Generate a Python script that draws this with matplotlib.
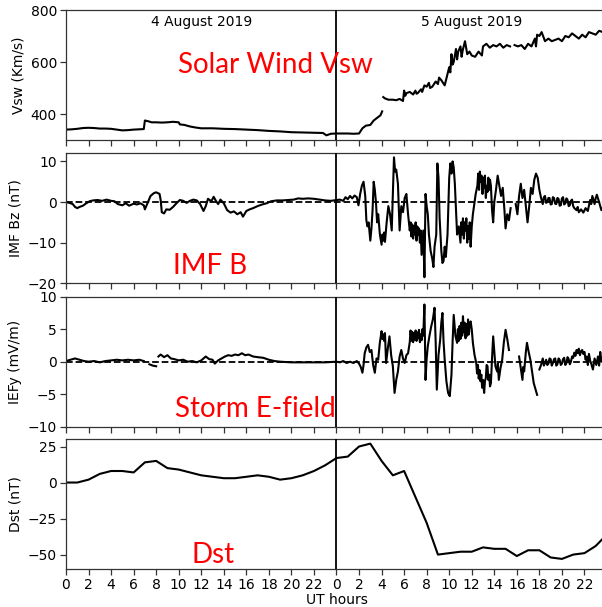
import numpy as np
import matplotlib
matplotlib.use("Agg")
import matplotlib.pyplot as plt

nan = np.nan

# ---------------- data (hour since 4 Aug 2019 00 UT, value) ----------------
# Solar wind speed (km/s)
vsw_day1 = [(0, 340), (0.5, 341), (1, 343), (1.5, 346), (2, 347), (2.5, 346), (3, 344), (3.5, 344),
            (4, 343), (4.5, 340), (5, 337), (5.5, 338), (6, 340), (6.5, 341), (6.9, 342), (7.0, 375),
            (7.3, 372), (7.6, 368), (8, 368), (8.5, 367), (9, 368), (9.5, 370), (10, 368), (10.1, 360),
            (10.5, 358), (11, 352), (11.5, 348), (12, 345), (13, 345), (14, 343), (15, 342), (16, 340),
            (17, 338), (18, 335), (19, 333), (20, 330), (21, 329), (22, 328), (22.8, 327), (23.1, 318),
            (23.5, 324), (24, 325)]
vsw_day2 = [(24.5, 325), (25, 325), (25.5, 324), (26, 325), (26.3, 345), (26.6, 355), (27, 358),
            (27.3, 375), (27.6, 385), (27.9, 395), (28.05, 410), (28.1, nan), (28.15, 465), (28.3, 460),
            (28.6, 455), (29, 455), (29.3, 453), (29.6, 458), (29.9, 450), (30, 490), (30.1, 470),
            (30.2, 480), (30.5, 485), (30.8, 475), (31, 490), (31.1, 478), (31.2, 480), (31.5, 495),
            (31.6, 485), (31.8, 510), (32, 505), (32.2, 520), (32.3, 500), (32.5, 505), (32.8, 525),
            (33, 515), (33.1, 540), (33.3, 530), (33.6, 510), (33.8, 545), (34, 580), (34.1, 560),
            (34.2, 630), (34.3, 590), (34.4, 600), (34.6, 650), (34.7, 610), (34.8, 640), (35, 660),
            (35.1, 620), (35.2, 645), (35.4, 680), (35.6, 630), (35.8, 640), (36, 625), (36.3, 620),
            (36.6, 640), (36.9, 625), (37, 660), (37.3, 670), (37.6, 655), (37.9, 665), (38.2, 660),
            (38.5, 670), (38.8, 655), (39.1, 665), (39.4, 660), (39.6, nan), (39.8, 665), (40.1, 660),
            (40.4, 665), (40.7, 650), (41, 670), (41.3, 660), (41.6, 690), (41.7, 660), (41.8, 705),
            (42, 700), (42.2, 715), (42.5, 680), (42.8, 690), (43.1, 680), (43.4, 685), (43.7, 690),
            (44, 680), (44.3, 700), (44.6, 695), (44.9, 710), (45.2, 700), (45.5, 690), (45.8, 705),
            (46.1, 695), (46.4, 715), (46.7, 710), (47, 705), (47.3, 720), (47.6, 715), (48, 712)]

# IMF Bz (nT)
bz_day1 = [(0, 0), (0.3, -0.2), (0.6, -0.5), (0.8, -1.2), (1.0, -1.5), (1.2, -1.2), (1.5, -0.9),
           (1.8, -0.3), (2.1, 0.2), (2.4, 0.4), (2.8, 0.5), (3.2, 0.3), (3.6, 0.6), (4.0, 0.3),
           (4.3, 0.2), (4.6, -0.5), (5.0, -0.8), (5.3, -0.3), (5.6, -0.9), (6.0, -0.4), (6.3, -0.6),
           (6.6, -0.3), (6.9, -0.8), (7.0, -1.8), (7.2, -0.5), (7.5, 1.5), (7.8, 2.2), (8.0, 2.4),
           (8.3, 2.0), (8.4, 0.5), (8.5, -2.5), (8.7, -2.8), (8.9, -1.8), (9.2, -1.9), (9.5, -1.2),
           (9.8, -0.3), (10.1, 0.5), (10.4, 0.3), (10.7, -0.2), (11.0, 0.3), (11.3, 0.6), (11.6, 0.4),
           (11.9, -0.5), (12.2, -2.2), (12.4, -1.0), (12.6, 0.8), (12.9, 0.2), (13.1, 1.3), (13.3, 0.3),
           (13.5, -0.5), (13.7, 0.6), (14.0, -0.3), (14.3, -2.0), (14.6, -2.6), (14.9, -2.3), (15.2, -3.0),
           (15.5, -2.5), (15.7, -3.6), (16.0, -2.2), (16.3, -1.8), (16.6, -1.5), (17.0, -1.0), (17.4, -0.6),
           (17.8, -0.3), (18.2, 0.2), (18.7, 0.4), (19.2, 0.4), (19.7, 0.5), (20.2, 0.6), (20.6, 0.9),
           (21.0, 0.8), (21.5, 0.9), (22.0, 0.8), (22.5, 0.6), (23.0, 0.4), (23.5, 0.3), (24.0, 0.5)]
bz_day2 = [(24.3, 0.6), (24.6, 0.3), (24.8, 1.2), (25.0, 0.7), (25.2, 1.5), (25.4, 0.9), (25.6, 1.6),
           (25.8, 1.2), (25.95, -0.8), (26.1, 2.0), (26.25, 4.0), (26.4, 5.0), (26.55, 1.5), (26.65, -4.5),
           (26.75, -6.0), (26.85, -5.0), (27.0, -9.5), (27.1, -6.5), (27.2, -2.0), (27.3, 5.0), (27.4, 3.0),
           (27.5, 0.0), (27.6, -5.0), (27.7, -3.0), (27.85, -8.0), (28.0, -10.5), (28.07, -8.0), (28.15, -9.5),
           (28.22, -7.5), (28.3, -9.8), (28.45, -5.0), (28.6, -1.0), (28.75, -3.0), (28.9, -7.0), (29.0, 2.0),
           (29.1, 11.0), (29.2, 7.5), (29.3, 8.0), (29.45, 4.5), (29.6, -7.0), (29.75, -1.0), (29.9, -2.5),
           (30.05, 1.0), (30.2, 2.0), (30.35, -3.0), (30.5, -7.0), (30.58, -5.0), (30.65, -8.5), (30.72, -5.5),
           (30.8, -9.0), (30.87, -6.0), (30.95, -8.0), (31.02, -5.0), (31.1, -9.5), (31.17, -6.0), (31.25, -8.0),
           (31.32, -6.5), (31.4, -10.0), (31.47, -7.0), (31.55, -13.0), (31.7, -7.0), (31.8, -18.5), (31.9, 2.0),
           (32.0, -1.0), (32.1, -3.0), (32.2, -8.0), (32.35, -12.0), (32.5, -14.0), (32.6, -16.0), (32.7, -11.0),
           (32.85, -8.0), (32.95, 9.5), (33.05, 6.0), (33.15, -4.0), (33.3, -12.0), (33.4, -15.0), (33.5, -14.5),
           (33.6, -11.0), (33.7, -13.5), (33.85, -8.0), (34.0, 6.0), (34.1, 9.5), (34.2, 7.0), (34.3, 10.0),
           (34.4, 8.5), (34.5, 4.5), (34.6, -2.0), (34.7, -8.0), (34.85, -6.0), (35.0, -10.0), (35.07, -5.0),
           (35.15, -8.0), (35.22, -4.0), (35.3, -9.0), (35.37, -5.0), (35.45, -7.0), (35.52, -4.0), (35.6, -10.0),
           (35.67, -6.0), (35.75, -9.0), (35.82, -5.0), (35.9, -11.0), (36.0, -6.0), (36.1, -3.0), (36.2, -1.0),
           (36.35, 2.0), (36.5, 4.0), (36.57, 7.0), (36.65, 3.0), (36.72, 7.5), (36.8, 5.0), (36.87, 6.5),
           (36.95, 2.0), (37.02, 6.0), (37.1, 3.5), (37.17, 6.5), (37.25, 1.0), (37.32, 4.0), (37.4, 2.5),
           (37.47, 6.0), (37.55, 3.0), (37.62, 5.5), (37.7, 4.0), (37.8, -2.0), (37.9, -5.0), (38.0, 0.0),
           (38.15, 3.0), (38.3, 6.5), (38.45, 4.0), (38.6, 1.5), (38.75, 3.5), (38.9, -2.0), (39.0, -6.5),
           (39.15, -3.0), (39.3, -4.5), (39.45, -1.5), (39.6, nan), (39.9, -0.5), (40.05, -3.0), (40.2, 1.5),
           (40.35, 4.5), (40.5, 1.0), (40.65, 3.0), (40.8, -1.0), (40.95, -5.0), (41.1, -1.0), (41.25, 3.5),
           (41.4, 2.0), (41.55, 5.5), (41.7, 7.0), (41.85, 6.0), (42.0, 3.0), (42.15, 1.0), (42.3, -0.5),
           (42.4, 1.2), (42.5, 1.5), (42.6, -0.2), (42.7, 0.0), (42.8, 1.0), (42.9, 1.0), (43.0, -0.6),
           (43.1, -0.5), (43.2, 1.2), (43.3, 1.0), (43.4, -0.4), (43.5, -0.5), (43.6, 1.0), (43.7, 0.8),
           (43.8, -0.9), (43.9, -0.8), (44.0, 0.9), (44.1, 1.2), (44.2, -0.6), (44.3, -0.3), (44.4, 0.9),
           (44.5, 0.5), (44.6, -1.0), (44.7, -0.8), (44.8, 0.3), (44.9, 0.6), (45.0, -1.0), (45.1, -1.5),
           (45.3, -2.0), (45.4, -1.2), (45.5, -2.5), (45.7, -1.8), (45.9, -2.6), (46.1, -1.5), (46.3, -2.2),
           (46.5, 0.5), (46.6, -0.5), (46.7, 1.5), (46.9, -0.5), (47.0, 1.0), (47.1, 1.8), (47.3, 0.0),
           (47.5, -2.0), (47.7, -1.0), (48.0, -1.5)]

# Interplanetary electric field Ey (mV/m)
ey_day1 = [(0, 0.1), (0.4, 0.3), (0.8, 0.5), (1.2, 0.3), (1.6, 0.1), (2.0, 0.0), (2.5, 0.1), (3.0, -0.1),
           (3.5, 0.1), (4.0, 0.2), (4.5, 0.3), (5.0, 0.2), (5.5, 0.3), (6.0, 0.2), (6.5, 0.3), (6.9, 0.1),
           (7.1, nan), (7.4, -0.4), (7.7, -0.6), (8.0, -0.7), (8.1, nan), (8.2, 0.8), (8.4, 1.1), (8.7, 0.7),
           (9.0, 1.0), (9.3, 0.5), (9.6, 0.4), (10.0, 0.2), (10.4, 0.3), (10.8, 0.0), (11.2, 0.1), (11.6, -0.1),
           (12.0, 0.2), (12.4, 0.8), (12.7, 0.4), (13.0, 0.3), (13.2, -0.3), (13.5, 0.2), (13.8, 0.5), (14.1, 0.8),
           (14.4, 1.0), (14.7, 0.9), (15.0, 1.1), (15.3, 1.0), (15.6, 1.3), (15.9, 1.0), (16.2, 1.1), (16.6, 0.8),
           (17.0, 0.7), (17.5, 0.6), (18.0, 0.3), (18.5, 0.1), (19.0, 0.0), (20.0, -0.1), (21.0, -0.1),
           (22.0, -0.1), (23.0, -0.1), (24.0, 0.0)]
ey_day2 = [(24.3, -0.1), (24.6, 0.1), (24.9, -0.2), (25.2, 0.0), (25.5, -0.2), (25.8, 0.1), (26.0, -0.3),
           (26.15, -0.8), (26.3, -1.7), (26.4, -0.5), (26.5, 1.3), (26.65, 2.2), (26.8, 2.6), (26.95, 1.5),
           (27.1, 1.8), (27.25, -0.5), (27.4, -1.7), (27.55, 0.5), (27.7, 0.3), (27.85, 3.0), (28.0, 4.7),
           (28.07, 3.5), (28.15, 4.2), (28.22, 3.2), (28.3, 4.4), (28.4, -0.2), (28.55, 2.0), (28.7, 3.9),
           (28.85, 1.0), (29.0, -0.7), (29.15, -4.8), (29.3, -2.8), (29.45, -1.5), (29.6, 0.8), (29.75, 1.8),
           (29.9, 0.5), (30.05, -0.2), (30.2, 1.0), (30.35, 1.3), (30.5, 3.0), (30.57, 4.8), (30.65, 3.2),
           (30.72, 4.6), (30.8, 3.0), (30.87, 4.4), (30.95, 3.4), (31.02, 4.8), (31.1, 3.2), (31.17, 4.5),
           (31.25, 3.6), (31.32, 4.9), (31.4, 3.0), (31.47, 4.2), (31.55, 3.3), (31.62, 5.0), (31.7, 4.0),
           (31.8, 8.8), (31.9, -2.8), (32.0, 0.5), (32.1, 2.4), (32.25, 4.0), (32.4, 5.4), (32.55, 6.5),
           (32.7, 8.3), (32.8, 3.0), (32.9, -4.3), (33.05, 1.0), (33.2, 3.4), (33.3, 6.0), (33.4, 7.5),
           (33.5, 3.0), (33.6, 0.3), (33.75, -3.0), (33.9, -4.8), (34.05, -5.3), (34.2, -2.0), (34.3, 3.0),
           (34.4, 7.2), (34.55, 4.0), (34.7, 2.9), (34.77, 5.0), (34.85, 3.2), (34.92, 5.5), (35.0, 3.5),
           (35.07, 6.0), (35.15, 4.0), (35.22, 7.0), (35.3, 4.5), (35.37, 6.0), (35.45, 3.6), (35.52, 5.8),
           (35.6, 4.0), (35.67, 6.5), (35.75, 4.2), (35.82, 5.8), (35.9, 6.2), (36.0, 5.0), (36.1, 2.9),
           (36.25, 1.0), (36.4, -0.2), (36.47, -1.8), (36.55, -0.5), (36.62, -2.6), (36.7, -1.3), (36.77, -3.0),
           (36.85, -2.0), (36.92, -4.0), (37.0, -2.8), (37.1, -4.8), (37.17, -3.0), (37.25, -2.5), (37.32, -0.5),
           (37.4, -0.7), (37.47, -2.8), (37.55, -2.0), (37.62, -3.8), (37.7, -3.3), (37.8, 0.5), (37.9, 3.9),
           (38.0, 1.5), (38.1, -0.7), (38.25, -1.5), (38.32, -0.3), (38.4, -2.8), (38.55, -1.0), (38.7, 0.3),
           (38.85, 3.0), (39.0, 4.9), (39.15, 3.5), (39.3, 1.8), (39.7, nan), (40.2, 0.8), (40.35, -1.0),
           (40.5, -2.8), (40.57, -0.8), (40.65, -1.5), (40.8, 1.5), (40.9, 2.9), (41.05, 1.5), (41.2, 0.3),
           (41.35, -1.5), (41.5, -3.3), (41.65, -4.2), (41.8, -5.1), (41.9, nan), (42.0, -1.2), (42.15, -0.5),
           (42.3, 0.5), (42.4, -0.6), (42.5, -0.2), (42.6, 0.3), (42.7, -0.5), (42.8, -0.3), (42.9, 0.5),
           (43.0, 0.4), (43.1, -0.6), (43.2, -0.2), (43.3, 0.4), (43.4, 0.5), (43.5, -0.6), (43.6, -0.4),
           (43.7, 0.5), (43.8, 0.3), (43.9, -0.5), (44.0, -0.3), (44.1, 0.4), (44.2, 0.6), (44.3, -0.5),
           (44.4, -0.2), (44.5, 0.7), (44.6, 0.4), (44.7, -0.4), (44.8, 0.0), (44.9, 0.8), (45.0, 0.6),
           (45.1, 1.4), (45.2, 0.9), (45.3, 1.8), (45.4, 1.3), (45.5, 2.0), (45.6, 1.0), (45.7, 1.6),
           (45.8, 1.8), (45.9, 1.2), (46.0, 1.5), (46.1, 0.3), (46.2, 0.8), (46.3, -0.5), (46.4, 1.2),
           (46.5, 0.2), (46.6, -0.3), (46.75, -1.2), (46.9, 0.5), (47.05, -0.5), (47.2, 0.8), (47.3, -0.6),
           (47.4, 1.5), (47.5, 0.0), (47.6, 0.3), (47.7, 1.6), (47.8, 1.0), (48.0, 0.5)]

# Dst index (nT), hourly from 4 Aug 00 UT
dst_hours = list(range(0, 49))
dst_values = [0, 0, 2, 6, 8, 8, 7, 14, 15, 10, 9, 7, 5, 4, 3, 3, 4, 5, 4, 2, 3, 5, 8, 12,
              17, 18, 25, 27, 15, 5, 8, -10, -28, -50, -49, -48, -48, -45, -46, -46, -51, -47, -47, -52,
              -53, -50, -49, -44, -36]

xtick_hours = list(range(0, 48, 2))
xtick_labels = [str(h % 24) for h in xtick_hours]
day_labels = ["4 August 2019", "5 August 2019"]


def unzip(*segments):
    pts = [p for seg in segments for p in seg]
    return [p[0] for p in pts], [p[1] for p in pts]


# ---------------- figure ----------------
plt.rcParams['font.family'] = ['DejaVu Sans']
plt.rcParams['font.size'] = 10
fig = plt.figure(figsize=(6.02, 6.07), dpi=100)

left, width = 66 / 602, 541 / 602
H = 607
boxes = [(10, 140), (153.3, 283.3), (296.7, 426.7), (439.3, 569)]
axes = []
for top, bot in boxes:
    ax = fig.add_axes([left, 1 - bot / H, width, (bot - top) / H])
    axes.append(ax)

red_font = ['Lato', 'DejaVu Sans']
red_size = 20
line_kw = dict(color='black', lw=1.5)


def style(ax, show_labels):
    ax.set_xlim(0, 48)
    ax.set_xticks(xtick_hours)
    if show_labels:
        ax.set_xticklabels(xtick_labels)
    else:
        ax.set_xticklabels([])
    ax.axvline(24, color='black', lw=1.3, zorder=3)
    for s in ax.spines.values():
        s.set_linewidth(0.9)
        s.set_color('#333333')
    ax.tick_params(length=4, width=0.9, color='#333333', pad=2.5)


# Panel 1: Vsw
ax = axes[0]
ax.plot(*unzip(vsw_day1, vsw_day2), **line_kw)
ax.set_ylim(300, 800)
ax.set_yticks([400, 600, 800])
ax.set_ylabel('Vsw (Km/s)')
style(ax, False)
ax.text(12, 752, day_labels[0], ha='center', va='center', fontsize=10)
ax.text(36, 752, day_labels[1], ha='center', va='center', fontsize=10)
ax.text(9.9, 559, 'Solar Wind Vsw', color='red', fontsize=red_size, family=red_font,
        ha='left', va='baseline')

# Panel 2: Bz
ax = axes[1]
ax.plot(*unzip(bz_day1, bz_day2), **line_kw)
ax.axhline(0, color='black', lw=1.3, ls='--')
ax.set_ylim(-20, 12)
ax.set_yticks([-20, -10, 0, 10])
ax.set_ylabel('IMF Bz (nT)')
style(ax, False)
ax.text(9.5, -17.8, 'IMF B', color='red', fontsize=red_size, family=red_font,
        ha='left', va='baseline')

# Panel 3: Ey
ax = axes[2]
ax.plot(*unzip(ey_day1, ey_day2), **line_kw)
ax.axhline(0, color='black', lw=1.3, ls='--')
ax.set_ylim(-10, 10)
ax.set_yticks([-10, -5, 0, 5, 10])
ax.set_ylabel('IEFy (mV/m)')
style(ax, False)
ax.text(9.7, -8.46, 'Storm E-field', color='red', fontsize=red_size, family=red_font,
        ha='left', va='baseline')

# Panel 4: Dst
ax = axes[3]
ax.plot(dst_hours, dst_values, **line_kw)
ax.set_ylim(-60, 30)
ax.set_yticks([-50, -25, 0, 25])
ax.set_ylabel('Dst (nT)')
style(ax, True)
ax.set_xlabel('UT hours', labelpad=0.5)
ax.text(11.1, -55.8, 'Dst', color='red', fontsize=red_size, family=red_font,
        ha='left', va='baseline')

fig.savefig('out.png', dpi=100)
